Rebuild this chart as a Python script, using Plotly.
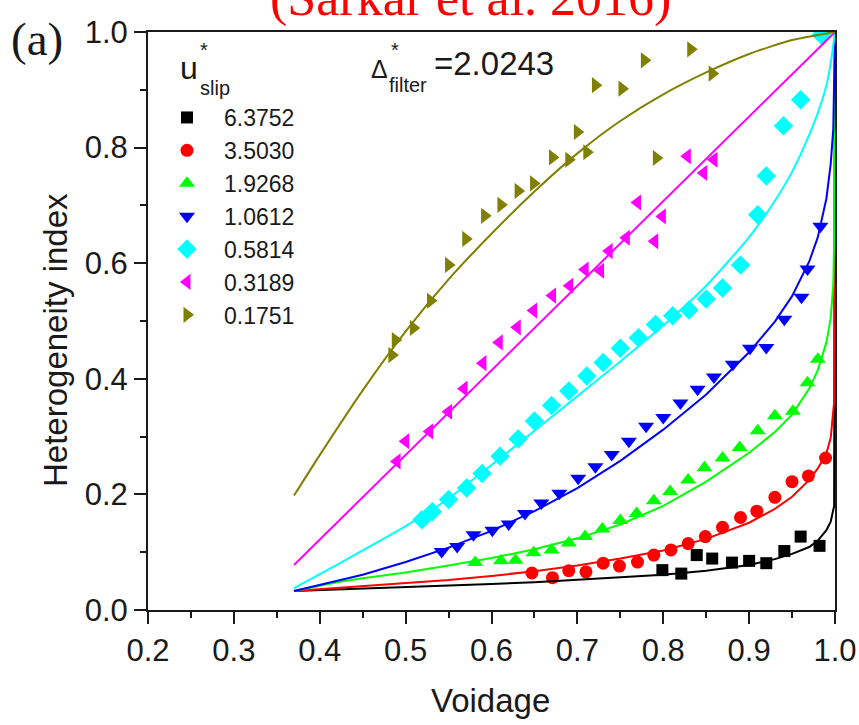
import plotly.graph_objects as go

# ---------------- data ----------------
series_names = ["6.3752", "3.5030", "1.9268", "1.0612", "0.5814", "0.3189", "0.1751"]
series_colors = ["#000000", "#FF0000", "#00FF00", "#0000FF", "#00FFFF", "#FF00FF", "#808000"]
series_symbols = ["square", "circle", "triangle-up", "triangle-down", "diamond", "triangle-left", "triangle-right"]

x_black = [0.799, 0.821, 0.839, 0.857, 0.880, 0.900, 0.920, 0.941, 0.960, 0.982]
y_black = [0.069, 0.063, 0.095, 0.089, 0.082, 0.085, 0.081, 0.102, 0.127, 0.111]

x_red = [0.647, 0.671, 0.690, 0.710, 0.730, 0.749, 0.770, 0.789, 0.809, 0.829, 0.849, 0.869, 0.890,
         0.909, 0.930, 0.950, 0.969, 0.989]
y_red = [0.064, 0.056, 0.068, 0.066, 0.081, 0.076, 0.083, 0.095, 0.104, 0.115, 0.127, 0.143, 0.160,
         0.171, 0.195, 0.222, 0.232, 0.263]

x_green = [0.581, 0.611, 0.628, 0.649, 0.670, 0.690, 0.709, 0.729, 0.750, 0.769, 0.789, 0.808, 0.829,
           0.848, 0.869, 0.889, 0.910, 0.930, 0.951, 0.968, 0.980]
y_green = [0.082, 0.085, 0.086, 0.099, 0.104, 0.116, 0.127, 0.140, 0.155, 0.167, 0.189, 0.205, 0.225,
           0.246, 0.263, 0.281, 0.310, 0.336, 0.344, 0.393, 0.434]

x_blue = [0.542, 0.560, 0.579, 0.601, 0.620, 0.639, 0.658, 0.679, 0.701, 0.721, 0.740, 0.760, 0.780,
          0.800, 0.820, 0.840, 0.859, 0.881, 0.901, 0.920, 0.941, 0.961, 0.968, 0.983]
y_blue = [0.101, 0.110, 0.130, 0.138, 0.149, 0.167, 0.185, 0.202, 0.228, 0.248, 0.269, 0.292, 0.318,
          0.333, 0.358, 0.382, 0.403, 0.425, 0.453, 0.454, 0.503, 0.541, 0.590, 0.664]

x_cyan = [0.519, 0.531, 0.550, 0.571, 0.589, 0.610, 0.631, 0.650, 0.670, 0.690, 0.711, 0.730, 0.750,
          0.771, 0.791, 0.811, 0.830, 0.850, 0.869, 0.890, 0.910, 0.920, 0.940, 0.960, 0.984]
y_cyan = [0.156, 0.170, 0.191, 0.211, 0.236, 0.266, 0.296, 0.327, 0.354, 0.379, 0.405, 0.428, 0.453,
          0.471, 0.494, 0.509, 0.519, 0.538, 0.557, 0.597, 0.684, 0.751, 0.838, 0.883, 0.995]

x_magenta = [0.490, 0.500, 0.528, 0.550, 0.568, 0.590, 0.609, 0.630, 0.649, 0.671, 0.691, 0.709, 0.727,
             0.737, 0.757, 0.770, 0.790, 0.799, 0.828, 0.847, 0.859]
y_magenta = [0.257, 0.292, 0.309, 0.343, 0.383, 0.427, 0.463, 0.489, 0.518, 0.544, 0.561, 0.589, 0.587,
             0.621, 0.644, 0.705, 0.638, 0.681, 0.785, 0.756, 0.779]

x_olive = [0.484, 0.488, 0.509, 0.529, 0.550, 0.570, 0.592, 0.611, 0.631, 0.649, 0.671, 0.690, 0.700,
           0.711, 0.721, 0.752, 0.778, 0.792, 0.832, 0.857]
y_olive = [0.441, 0.467, 0.488, 0.535, 0.597, 0.642, 0.682, 0.701, 0.725, 0.738, 0.783, 0.779, 0.827,
           0.792, 0.908, 0.902, 0.951, 0.782, 0.970, 0.928]

# fitted curves
fx_black = [0.37, 0.45, 0.5, 0.55, 0.6, 0.65, 0.7, 0.75, 0.8, 0.85, 0.9, 0.93, 0.95, 0.97, 0.98, 0.99, 0.995, 0.999, 1.0]
fy_black = [0.033, 0.037, 0.039, 0.042, 0.045, 0.048, 0.052, 0.056, 0.061, 0.068, 0.078, 0.088, 0.097, 0.109, 0.120, 0.138, 0.153, 0.180, 1.0]

fx_red = [0.37, 0.45, 0.5, 0.55, 0.6, 0.65, 0.7, 0.75, 0.8, 0.85, 0.9, 0.93, 0.95, 0.97, 0.98, 0.99, 0.995, 0.999, 1.0]
fy_red = [0.033, 0.041, 0.046, 0.052, 0.059, 0.067, 0.077, 0.089, 0.103, 0.123, 0.151, 0.175, 0.196, 0.225, 0.245, 0.271, 0.298, 0.36, 1.0]

fx_green = [0.37, 0.42, 0.45, 0.5, 0.55, 0.6, 0.65, 0.7, 0.75, 0.8, 0.85, 0.9, 0.93, 0.95, 0.97, 0.98, 0.99, 0.995, 0.998, 0.9995, 1.0]
fy_green = [0.033, 0.048, 0.055, 0.065, 0.077, 0.090, 0.105, 0.124, 0.148, 0.180, 0.222, 0.272, 0.308, 0.338, 0.383, 0.415, 0.463, 0.505, 0.563, 0.68, 1.0]

fx_blue = [0.37, 0.42, 0.45, 0.5, 0.55, 0.6, 0.65, 0.7, 0.75, 0.8, 0.85, 0.9, 0.93, 0.95, 0.97, 0.98, 0.99, 0.995, 0.998, 1.0]
fy_blue = [0.033, 0.050, 0.061, 0.083, 0.108, 0.137, 0.171, 0.211, 0.258, 0.312, 0.373, 0.446, 0.499, 0.543, 0.603, 0.645, 0.712, 0.772, 0.832, 1.0]

fx_cyan = [0.37, 0.42, 0.45, 0.5, 0.55, 0.6, 0.65, 0.7, 0.75, 0.8, 0.85, 0.9, 0.93, 0.95, 0.97, 0.98, 0.99, 0.995, 1.0]
fy_cyan = [0.038, 0.078, 0.103, 0.145, 0.193, 0.251, 0.310, 0.370, 0.430, 0.492, 0.561, 0.645, 0.708, 0.758, 0.822, 0.860, 0.908, 0.946, 1.0]

fx_magenta = [0.37, 0.5, 0.6, 0.7, 0.8, 0.9, 1.0]
fy_magenta = [0.078, 0.268, 0.414, 0.561, 0.707, 0.854, 1.0]

fx_olive = [0.37, 0.4, 0.45, 0.5, 0.55, 0.6, 0.65, 0.7, 0.75, 0.8, 0.85, 0.9, 0.95, 1.0]
fy_olive = [0.198, 0.268, 0.380, 0.482, 0.572, 0.651, 0.724, 0.790, 0.846, 0.892, 0.930, 0.962, 0.986, 1.0]

x_ticks = [0.2, 0.3, 0.4, 0.5, 0.6, 0.7, 0.8, 0.9, 1.0]
y_ticks = [0.0, 0.2, 0.4, 0.6, 0.8, 1.0]

points = [(x_black, y_black), (x_red, y_red), (x_green, y_green), (x_blue, y_blue),
          (x_cyan, y_cyan), (x_magenta, y_magenta), (x_olive, y_olive)]
fits = [(fx_black, fy_black), (fx_red, fy_red), (fx_green, fy_green), (fx_blue, fy_blue),
        (fx_cyan, fy_cyan), (fx_magenta, fy_magenta), (fx_olive, fy_olive)]
fit_shapes = ["linear", "linear", "linear", "linear", "spline", "linear", "spline"]
marker_sizes = [12, 13, 14, 14, 15, 14, 14]

# ---------------- figure ----------------
W, H = 859, 725
L, R, T, B = 148, 859 - 835, 32, 725 - 610
PW, PH = W - L - R, H - T - B

def px(xv):                  # pixel -> paper x
    return (xv - L) / PW

def py(yv):                  # pixel -> paper y
    return (H - B - yv) / PH

fig = go.Figure()
for (xs, ys), name, col, sym, ms in zip(points, series_names, series_colors, series_symbols, marker_sizes):
    fig.add_trace(go.Scatter(x=xs, y=ys, mode="markers", name=name,
                             marker=dict(color=col, symbol=sym, size=ms, line=dict(width=0))))
for (xs, ys), col, shp in zip(fits, series_colors, fit_shapes):
    fig.add_trace(go.Scatter(x=xs, y=ys, mode="lines", showlegend=False, hoverinfo="skip",
                             line=dict(color=col, width=2, shape=shp, smoothing=0.6)))

FONT = "Liberation Sans, Arial, sans-serif"
SERIF = "Liberation Serif, Times New Roman, serif"
INK = "#1a1a1a"

axis_common = dict(showline=True, linecolor=INK, linewidth=2, mirror=True, showgrid=False,
                   zeroline=False, ticks="outside", ticklen=12, tickwidth=2, tickcolor=INK,
                   tickfont=dict(family=FONT, size=31, color=INK), automargin=False)

fig.update_xaxes(range=[0.2, 1.0], tickvals=x_ticks, ticktext=[f"{v:.1f}" for v in x_ticks],
                 minor=dict(dtick=0.05, tick0=0.2, ticks="outside", ticklen=6, tickwidth=2, tickcolor=INK),
                 **axis_common)
fig.update_yaxes(range=[0.0, 1.0], tickvals=y_ticks, ticktext=[f"{v:.1f}" for v in y_ticks],
                 minor=dict(dtick=0.1, tick0=0.0, ticks="outside", ticklen=6, tickwidth=2, tickcolor=INK),
                 ticklabelstandoff=0, **axis_common)

ann = [
    dict(text="(Sarkar et al. 2016)", x=px(470), y=py(-2), font=dict(family=SERIF, size=52, color="#FF0000")),
    dict(text="(a)", x=px(37), y=py(39), font=dict(family=SERIF, size=47, color=INK)),
    dict(text="Heterogeneity index", x=px(56), y=py(340), textangle=-90,
         font=dict(family=FONT, size=33, color=INK)),
    dict(text="Voidage", x=px(490), y=py(700), font=dict(family=FONT, size=33, color=INK)),
    dict(text="u", x=px(189), y=py(68), font=dict(family=FONT, size=32, color=INK)),
    dict(text="*", x=px(204), y=py(50), font=dict(family=FONT, size=20, color=INK)),
    dict(text="slip", x=px(215), y=py(88), font=dict(family=FONT, size=20, color=INK)),
    dict(text="Δ", x=px(379), y=py(69), font=dict(family=FONT, size=25, color=INK)),
    dict(text="*", x=px(395), y=py(50), font=dict(family=FONT, size=20, color=INK)),
    dict(text="filter", x=px(408), y=py(85), font=dict(family=FONT, size=20, color=INK)),
    dict(text="=2.0243", x=px(494), y=py(63), font=dict(family=FONT, size=33, color=INK)),
]
for a in ann:
    a.update(xref="paper", yref="paper", showarrow=False, xanchor="center", yanchor="middle")

fig.update_layout(
    width=W, height=H, margin=dict(l=L, r=R, t=T, b=B, autoexpand=False),
    paper_bgcolor="white", plot_bgcolor="white",
    annotations=ann,
    showlegend=True,
    legend=dict(x=px(150), y=py(96), xanchor="left", yanchor="top", bgcolor="rgba(0,0,0,0)",
                borderwidth=0, font=dict(family=FONT, size=23, color=INK),
                itemwidth=64, tracegroupgap=0),
)

fig.write_html("out.html", config={"displayModeBar": False},
               post_script="document.body.style.margin='0px';document.body.style.overflow='hidden';")
